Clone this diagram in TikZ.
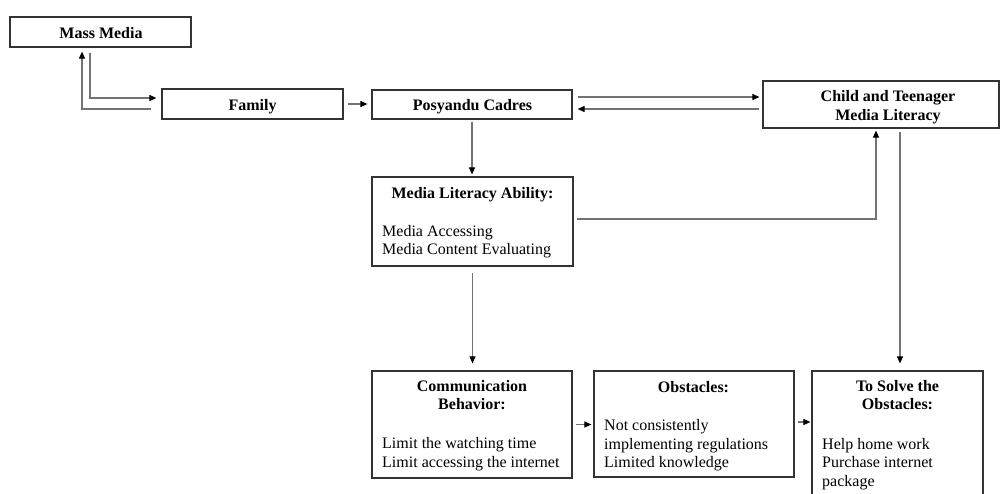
\documentclass[tikz,border=0pt]{standalone}
\usepackage{fontspec}
\setmainfont{Liberation Serif}
\usetikzlibrary{arrows.meta}
\begin{document}
\begin{tikzpicture}[x=1pt,y=-1pt,font=\fontsize{16}{18.5}\selectfont]
\tikzset{
  box/.style={draw=black!80, line width=1.2pt, inner sep=0pt, fill=white},
  conn/.style={draw=black!55, line width=1.1pt, -{Triangle[width=6pt,length=7pt,color=black]}},
  ttl/.style={font=\fontsize{16}{18.5}\selectfont\bfseries, inner sep=0pt, anchor=base},
  itm/.style={inner sep=0pt, anchor=base west},
}
\useasboundingbox (0,0) rectangle (1000,493);
\clip (0,0) rectangle (1000,493);

% boxes
\node[box, minimum width=181pt, minimum height=30pt] (mass) at (100.5,32) {};
\node[box, minimum width=181pt, minimum height=30pt] (family) at (252.5,104) {};
\node[box, minimum width=200pt, minimum height=29pt] (posy) at (472,104.5) {};
\node[box, minimum width=236pt, minimum height=47pt] (child) at (881,104.5) {};
\node[box, minimum width=201pt, minimum height=89pt] (mla) at (472.5,221.5) {};
\node[box, minimum width=200pt, minimum height=107pt] (comm) at (472,424.5) {};
\node[box, minimum width=200pt, minimum height=106pt] (obst) at (694,424) {};
\node[box, minimum width=171pt, minimum height=149pt] (solve) at (897.5,445.5) {};

% texts
\node[ttl] (massT) at (101,38) {Mass Media};
\node[ttl] (famT) at (252.5,110) {Family};
\node[ttl] (posT) at (472.5,110) {Posyandu Cadres};
\node[ttl] (childT1) at (888,101) {Child and Teenager};
\node[ttl] (childT2) at (888,120) {Media Literacy};

\node[ttl] (mlaT) at (472.5,198) {Media Literacy Ability:};
\node[itm] (mla1) at (382,236) {Media Accessing};
\node[itm] (mla2) at (382,254) {Media Content Evaluating};

\node[ttl] (commT1) at (472,391) {Communication};
\node[ttl] (commT2) at (472,409) {Behavior:};
\node[itm] (comm1) at (382,448) {Limit the watching time};
\node[itm] (comm2) at (382,467) {Limit accessing the internet};

\node[ttl] (obstT) at (693.5,392) {Obstacles:};
\node[itm] (obst1) at (604,430) {Not consistently};
\node[itm] (obst2) at (604,449) {implementing regulations};
\node[itm] (obst3) at (604,467) {Limited knowledge};

\node[ttl] (solveT1) at (897.5,391) {To Solve the};
\node[ttl] (solveT2) at (897.5,409) {Obstacles:};
\node[itm] (solve1) at (822,449) {Help home work};
\node[itm] (solve2) at (822,467) {Purchase internet};
\node[itm] (solve3) at (822,486) {package};

% connectors
\draw[conn, shorten >=4pt] ([xshift=-10pt,yshift=-5pt]family.west) -| ([xshift=-18.5pt]mass.south);
\draw[conn, shorten <=5pt, shorten >=5pt] ([xshift=-10.5pt]mass.south) |- ([yshift=6pt]family.west);
\draw[conn, shorten <=4pt, shorten >=4pt] (family.east) -- (family.east -| posy.west);
\draw[conn, shorten <=5pt, shorten >=3pt] ([yshift=7.5pt]posy.east) -- ([yshift=7.5pt]posy.east -| child.west);
\draw[conn, shorten <=3pt, shorten >=5pt] ([yshift=-4.5pt]child.west) -- ([yshift=-4.5pt]child.west -| posy.east);
\draw[conn, shorten <=2pt, shorten >=2pt] (posy.south) -- (posy.south |- mla.north);
\draw[conn, shorten <=3pt, shorten >=2pt] ([yshift=2.5pt]mla.east) -| ([xshift=-5pt]child.south);
\draw[conn, shorten <=6pt, shorten >=7pt] (mla.south) -- (mla.south |- comm.north);
\draw[conn, shorten <=3pt, shorten >=7pt] ([xshift=19pt]child.south) -- ([xshift=19pt]child.south |- solve.north);
\draw[conn, shorten <=3pt, shorten >=2pt] (comm.east) -- (comm.east -| obst.west);
\draw[conn, shorten <=3pt, shorten >=1pt] ([yshift=2pt]obst.east) -- ([yshift=2pt]obst.east -| solve.west);
\end{tikzpicture}
\end{document}
